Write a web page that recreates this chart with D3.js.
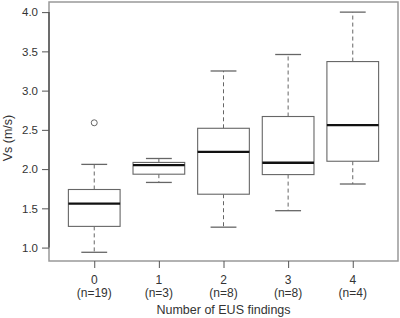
<!DOCTYPE html>
<html>
<head>
<meta charset="utf-8">
<script src="https://cdn.jsdelivr.net/npm/d3@7"></script>
<style>
  body { margin: 0; background: #fff; }
  text { font-family: "Liberation Sans", Arial, sans-serif; fill: #333; }
</style>
</head>
<body>
<div id="chart"></div>
<script>
// Box statistics
const groups = [1, 2, 3, 4, 5];
const groupLabels = ["0", "1", "2", "3", "4"];
const countLabels = ["(n=19)", "(n=3)", "(n=8)", "(n=8)", "(n=4)"];
const whiskerLow = [0.94, 1.83, 1.26, 1.47, 1.81];
const q1 = [1.27, 1.935, 1.68, 1.93, 2.10];
const median = [1.56, 2.05, 2.22, 2.08, 2.56];
const q3 = [1.74, 2.085, 2.52, 2.67, 3.37];
const whiskerHigh = [2.06, 2.135, 3.25, 3.46, 4.0];
const outlierGroup = [1];
const outlierValue = [2.59];
const yTicks = [1.0, 1.5, 2.0, 2.5, 3.0, 3.5, 4.0];

const width = 400, height = 318;
const plot = { left: 49, right: 398, top: 2, bottom: 261 };

const svg = d3.select("#chart")
  .append("svg")
  .attr("width", width)
  .attr("height", height);

const x = d3.scaleLinear().domain([0.3, 5.7]).range([plot.left, plot.right]);
const y = d3.scaleLinear().domain([0.829, 4.129]).range([plot.bottom, plot.top]);

const boxW = (x(2) - x(1)) * 0.8;
const capW = boxW / 2;

// frame
svg.append("rect")
  .attr("x", plot.left).attr("y", plot.top)
  .attr("width", plot.right - plot.left)
  .attr("height", plot.bottom - plot.top)
  .attr("fill", "none")
  .attr("stroke", "#999")
  .attr("stroke-width", 1.5);

const boxes = groups.map((g, i) => ({
  g: g, lo: whiskerLow[i], q1: q1[i], med: median[i], q3: q3[i], hi: whiskerHigh[i]
}));

const bx = svg.append("g").selectAll("g").data(boxes).enter().append("g");

// whiskers
bx.append("line")
  .attr("x1", d => x(d.g)).attr("x2", d => x(d.g))
  .attr("y1", d => y(d.q3)).attr("y2", d => y(d.hi))
  .attr("stroke", "#666").attr("stroke-dasharray", "4,3");
bx.append("line")
  .attr("x1", d => x(d.g)).attr("x2", d => x(d.g))
  .attr("y1", d => y(d.q1)).attr("y2", d => y(d.lo))
  .attr("stroke", "#666").attr("stroke-dasharray", "4,3");

// caps
bx.append("line")
  .attr("x1", d => x(d.g) - capW / 2).attr("x2", d => x(d.g) + capW / 2)
  .attr("y1", d => y(d.hi)).attr("y2", d => y(d.hi))
  .attr("stroke", "#666").attr("stroke-width", 1.3);
bx.append("line")
  .attr("x1", d => x(d.g) - capW / 2).attr("x2", d => x(d.g) + capW / 2)
  .attr("y1", d => y(d.lo)).attr("y2", d => y(d.lo))
  .attr("stroke", "#666").attr("stroke-width", 1.3);

// box
bx.append("rect")
  .attr("x", d => x(d.g) - boxW / 2)
  .attr("y", d => y(d.q3))
  .attr("width", boxW)
  .attr("height", d => y(d.q1) - y(d.q3))
  .attr("fill", "#fff")
  .attr("stroke", "#666")
  .attr("stroke-width", 1.1);

// median
bx.append("line")
  .attr("x1", d => x(d.g) - boxW / 2).attr("x2", d => x(d.g) + boxW / 2)
  .attr("y1", d => y(d.med)).attr("y2", d => y(d.med))
  .attr("stroke", "#111").attr("stroke-width", 2.4);

// outliers
svg.append("g").selectAll("circle")
  .data(outlierGroup.map((g, i) => ({ g: g, v: outlierValue[i] })))
  .enter().append("circle")
  .attr("cx", d => x(d.g)).attr("cy", d => y(d.v))
  .attr("r", 3)
  .attr("fill", "none")
  .attr("stroke", "#666");

// y axis
const yAxis = d3.axisLeft(y)
  .tickValues(yTicks)
  .tickFormat(d3.format(".1f"))
  .tickSize(7)
  .tickPadding(4);
const ya = svg.append("g")
  .attr("transform", "translate(" + plot.left + ",0)")
  .call(yAxis);
ya.select(".domain").remove();
ya.selectAll("line").attr("stroke", "#555");
ya.selectAll("text").attr("font-size", 11.5).attr("fill", "#333");
ya.append("line")
  .attr("x1", 0).attr("x2", 0)
  .attr("y1", y(yTicks[0])).attr("y2", y(yTicks[yTicks.length - 1]))
  .attr("stroke", "#555").attr("stroke-width", 1.5);

// x axis
const xAxis = d3.axisBottom(x)
  .tickValues(groups)
  .tickFormat("")
  .tickSize(7);
const xa = svg.append("g")
  .attr("transform", "translate(0," + plot.bottom + ")")
  .call(xAxis);
xa.select(".domain").remove();
xa.selectAll("line").attr("stroke", "#555");

svg.append("g").selectAll("text")
  .data(groups).enter().append("text")
  .attr("x", d => x(d)).attr("y", 284)
  .attr("text-anchor", "middle")
  .attr("font-size", 12)
  .text((d, i) => groupLabels[i]);

svg.append("g").selectAll("text")
  .data(groups).enter().append("text")
  .attr("x", d => x(d)).attr("y", 297)
  .attr("text-anchor", "middle")
  .attr("font-size", 12)
  .text((d, i) => countLabels[i]);

// axis titles
svg.append("text")
  .attr("x", (plot.left + plot.right) / 2)
  .attr("y", 314)
  .attr("text-anchor", "middle")
  .attr("font-size", 12.5)
  .text("Number of EUS findings");

svg.append("text")
  .attr("transform", "translate(12,138) rotate(-90)")
  .attr("text-anchor", "middle")
  .attr("font-size", 12.5)
  .text("Vs (m/s)");
</script>
</body>
</html>
